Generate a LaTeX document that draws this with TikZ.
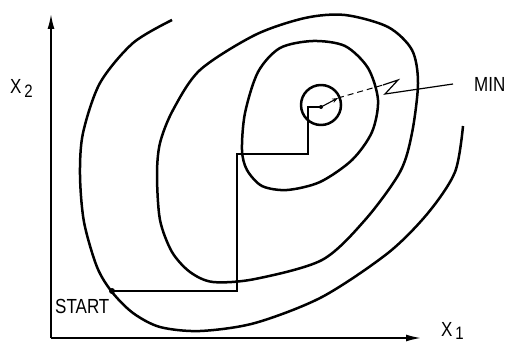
\documentclass[tikz,border=0pt]{standalone}
\usepackage{fontspec}
\setmainfont{Liberation Sans}
\usetikzlibrary{arrows.meta, positioning}
\newcommand{\rotulo}[1]{\scalebox{1}[1.2]{#1}}
\tikzset{
  curva nivel/.style={line width=2.5pt, line join=round},
  paso/.style={line width=1.5pt, line join=miter},
  eje/.style={line width=1.6pt, -{Latex[length=15pt, width=7pt]}},
  etiqueta/.style={font=\fontsize{17}{20}\selectfont, inner sep=0pt},
  punto/.style={circle, fill, inner sep=0pt, minimum size=4pt},
  punto grande/.style={circle, fill, inner sep=0pt, minimum size=6pt},
}

\begin{document}
\begin{tikzpicture}[x=1pt, y=-1pt]
  \useasboundingbox (0,0) rectangle (510,345);

  % Ejes
  \coordinate (origen) at (51,338);
  \coordinate (x2fin) at (51,14);
  \coordinate (x1fin) at (421,338);
  \draw[eje] (origen) -- (x2fin);
  \draw[eje] (origen) -- (x1fin);
  \node[etiqueta, anchor=base west] (x2) at (10,93)
    {\rotulo{X\,\raisebox{-4pt}{\fontsize{15}{15}\selectfont 2}}};
  \node[etiqueta, anchor=base west] (x1) at (441,336)
    {\rotulo{X\,\raisebox{-3pt}{\fontsize{15}{15}\selectfont 1}}};

  % Curvas de nivel
  \draw[curva nivel] plot[smooth] coordinates {
    (172,20) (133,43) (100,83) (83,133) (80,175) (84,222) (97,267)
    (112,292) (133,313) (160,327) (200,331) (255,323) (322,297)
    (388,253) (428,213) (455,172) (463,126)};
  \draw[curva nivel] plot[smooth cycle] coordinates {
    (255,35) (305,18) (345,15) (388,27) (412,50) (418,83) (412,133)
    (400,172) (365,220) (322,260) (255,279) (213,282) (190,272)
    (172,252) (160,220) (157,175) (160,143) (173,110) (200,70)};
  \draw[curva nivel] plot[smooth cycle] coordinates {
    (313,41) (345,46) (368,68) (378,100) (372,132) (352,160) (320,182)
    (287,190) (262,186) (247,170) (242,150) (245,113) (258,72) (280,48)};
  \draw[curva nivel] (321,105) circle[radius=20];

  % Camino de busqueda
  \coordinate (start) at (112,291);
  \coordinate (p1) at (237,291);
  \coordinate (p2) at (237,154);
  \coordinate (p3) at (308,154);
  \coordinate (p4) at (308,107);
  \coordinate (min) at (321,107);
  \draw[paso] (start) -- (p1) -- (p2) -- (p3) -- (p4) -- (min);
  \node[punto grande] (dstart) at (start) {};
  \node[punto] (dmin) at (min) {};
  \node[etiqueta, anchor=base west] (lstart) at (55,313) {\rotulo{START}};

  % Indicador del minimo
  \node[etiqueta, anchor=base west] (lmin) at (474,91) {\rotulo{MIN}};
  \coordinate (flecha) at (338,98);
  \coordinate (z1) at (383,85);
  \coordinate (z2) at (398,80);
  \coordinate (z3) at (385,94);
  \coordinate (z4) at (453,84);
  \draw[line width=1.1pt, -{Stealth[length=6pt, width=4.5pt]}] (min) -- (flecha);
  \draw[line width=1pt, dash pattern=on 6pt off 4pt] (flecha) -- (z1);
  \draw[line width=1.2pt] (z1) -- (z2) -- (z3) -- (z4);
\end{tikzpicture}
\end{document}
